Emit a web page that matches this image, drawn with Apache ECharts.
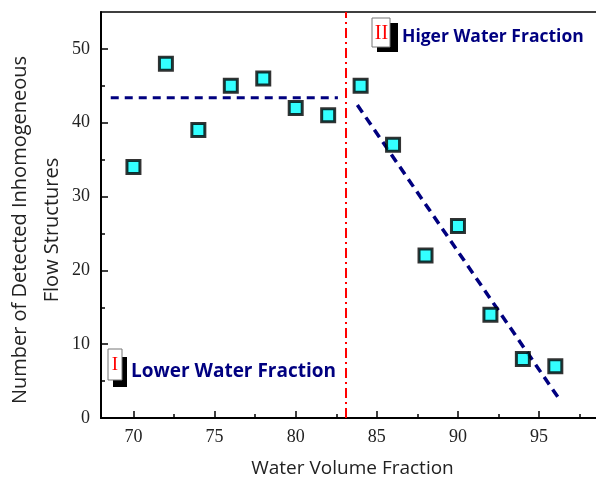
<!DOCTYPE html>
<html><head><meta charset="utf-8">
<script src="https://cdn.jsdelivr.net/npm/echarts@6/dist/echarts.min.js"></script>
<style>html,body{margin:0;padding:0;background:#fff}#c{width:596px;height:481px}</style>
</head><body><div id="c"></div>
<script>
const waterFraction = [70, 72, 74, 76, 78, 80, 82, 84, 86, 88, 90, 92, 94, 96];
const structures = [34, 48, 39, 45, 46, 42, 41, 45, 37, 22, 26, 14, 8, 7];
const lowFit = [[68.6, 43.4], [82.6, 43.4]];
const highFit = [[83.8, 42.4], [96.2, 2.7]];
const boundary = [[83.1, 0], [83.1, 55]];
const xMajor = [70, 75, 80, 85, 90, 95];
const xMinor = [72.5, 77.5, 82.5, 87.5, 92.5, 97.5];
const yMajor = [0, 10, 20, 30, 40, 50];
const yMinor = [5, 15, 25, 35, 45];

const chart = echarts.init(document.getElementById('c'), null, {renderer: 'canvas'});
const serif = '"Liberation Serif", "Times New Roman", serif';
const sans = '"Open Sans", "Noto Sans", sans-serif';
const xBase = {type: 'value', min: 68, max: 99, splitLine: {show: false}};
const yBase = {type: 'value', min: 0, max: 55, splitLine: {show: false}};
chart.setOption({
  animation: false,
  grid: {left: 101, top: 12, right: -8, bottom: 63, show: true, borderColor: '#000', borderWidth: 1.5,
         containLabel: false, outerBoundsMode: 'none'},
  xAxis: [
    Object.assign({}, xBase, {
      name: 'Water Volume Fraction', nameLocation: 'middle', nameGap: 41,
      nameTextStyle: {fontFamily: sans, fontSize: 19, color: '#222'},
      axisLine: {lineStyle: {color: '#000', width: 2}},
      axisTick: {inside: true, length: 7, lineStyle: {width: 1.5, color: '#000'}, customValues: xMajor},
      axisLabel: {customValues: xMajor, fontFamily: serif, fontSize: 18, color: '#222', margin: 10}
    }),
    Object.assign({}, xBase, {
      position: 'bottom', axisLine: {show: false},
      axisTick: {inside: true, length: 4, lineStyle: {width: 1.5, color: '#000'}, customValues: xMinor},
      axisLabel: {show: false}
    })
  ],
  yAxis: [
    Object.assign({}, yBase, {
      axisLine: {show: true, lineStyle: {color: '#000', width: 2}},
      axisTick: {show: true, inside: true, length: 7, lineStyle: {width: 1.5, color: '#000'}, customValues: yMajor},
      axisLabel: {customValues: yMajor, fontFamily: serif, fontSize: 18, color: '#222', margin: 11}
    }),
    Object.assign({}, yBase, {
      position: 'left', axisLine: {show: false},
      axisTick: {show: true, inside: true, length: 4, lineStyle: {width: 1.5, color: '#000'}, customValues: yMinor},
      axisLabel: {show: false}
    })
  ],
  series: [
    {type: 'line', data: boundary, symbol: 'none', silent: true,
     lineStyle: {color: '#ff0000', width: 2, type: [10, 4, 2, 4]}},
    {type: 'line', data: lowFit, symbol: 'none', silent: true,
     lineStyle: {color: '#00007f', width: 3, type: [8, 6]}},
    {type: 'line', data: highFit, symbol: 'none', silent: true,
     lineStyle: {color: '#00007f', width: 3.5, type: [9, 6]}},
    {type: 'scatter', data: waterFraction.map((x, i) => [x, structures[i]]),
     symbol: 'rect', symbolSize: 13, z: 5,
     itemStyle: {color: '#00ffff', borderColor: '#000', borderWidth: 3}}
  ],
  graphic: [
    {type: 'text', z: 102, x: 36, y: 230, rotation: Math.PI / 2,
     style: {x: 0, y: 0, text: 'Number of Detected Inhomogeneous\nFlow Structures', fill: '#222',
             font: '20px ' + sans, align: 'center', verticalAlign: 'middle', lineHeight: 32}},
    {type: 'rect', z: 100, shape: {x: 113, y: 357, width: 14, height: 30}, style: {fill: '#000'}},
    {type: 'rect', z: 101, shape: {x: 108, y: 349, width: 14, height: 31}, style: {fill: '#fff', stroke: '#777', lineWidth: 1}},
    {type: 'text', z: 102, style: {x: 115, y: 365, text: 'I', fill: '#ff0000', font: '19px ' + serif, align: 'center', verticalAlign: 'middle'}},
    {type: 'text', z: 102, style: {x: 131, y: 372, text: 'Lower Water Fraction', fill: '#000080', font: 'bold 19px ' + sans, verticalAlign: 'middle'}},
    {type: 'rect', z: 100, shape: {x: 377, y: 23, width: 21, height: 29}, style: {fill: '#000'}},
    {type: 'rect', z: 101, shape: {x: 372, y: 18, width: 18, height: 29}, style: {fill: '#fff', stroke: '#777', lineWidth: 1}},
    {type: 'text', z: 102, style: {x: 381.5, y: 34, text: 'II', fill: '#ff0000', font: '20px ' + serif, align: 'center', verticalAlign: 'middle'}},
    {type: 'text', z: 102, style: {x: 402, y: 37, text: 'Higer Water Fraction', fill: '#000080', font: 'bold 17.5px ' + sans, verticalAlign: 'middle'}}
  ]
});
</script></body></html>
